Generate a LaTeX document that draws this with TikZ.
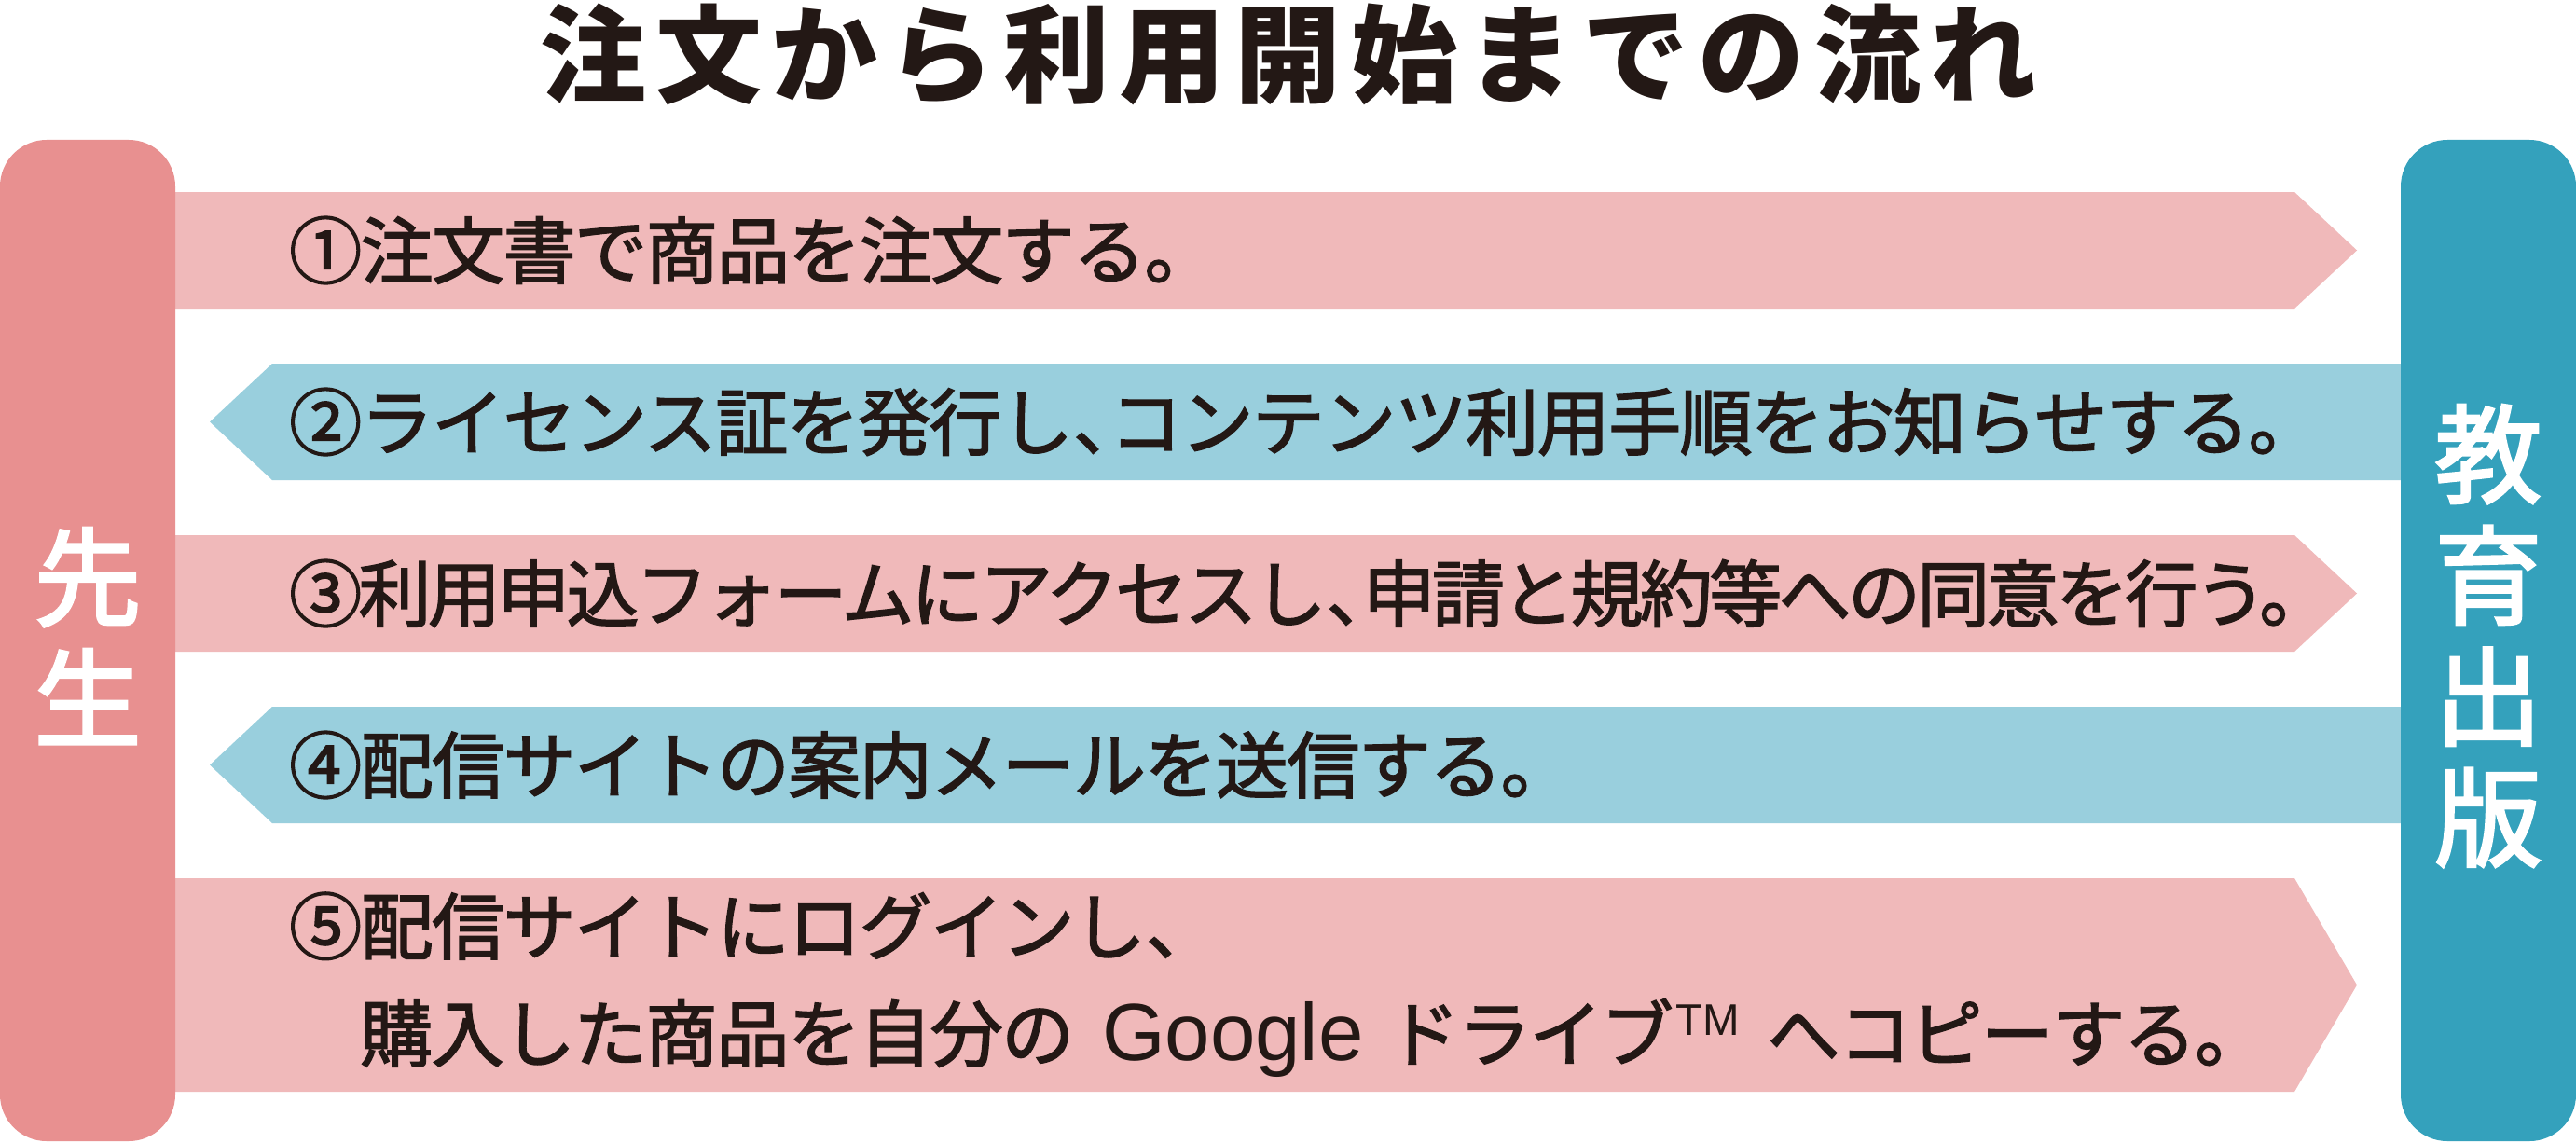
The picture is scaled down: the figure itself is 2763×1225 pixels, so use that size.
\documentclass[tikz,border=0pt]{standalone}
\usepackage{fontspec}
\newfontfamily\titlefont{Noto Sans CJK JP}[LetterSpace=9]
\newfontfamily\bodyfont{Noto Sans CJK JP}[LetterSpace=-2,FakeBold=2]
\newfontfamily\sidefont{Noto Sans CJK JP}[FakeBold=2.5]
\newfontfamily\latinfont{Liberation Sans}
\definecolor{senseiC}{RGB}{232,144,144}
\definecolor{pinkA}{RGB}{240,185,186}
\definecolor{blueA}{RGB}{153,207,221}
\definecolor{kyoikuC}{RGB}{52,161,188}
\definecolor{ink}{RGB}{35,24,21}
\newcommand\tenh{\makebox[0.5em][l]{、}}
\begin{document}
\begin{tikzpicture}[x=1bp,y=-1bp,
  colbox/.style={rectangle, rounded corners=50bp, minimum width=188bp, minimum height=1074bp, inner sep=0pt},
  pinkarrow/.style={fill=pinkA},
  bluearrow/.style={fill=blueA},
  steptext/.style={anchor=west, inner sep=0pt, text=ink, align=left,
    font=\bodyfont\fontsize{78bp}{115bp}\selectfont},
  sidetext/.style={inner sep=0pt, text=white, align=center,
    font=\sidefont\fontsize{115bp}{130bp}\selectfont},
  titletext/.style={inner sep=0pt, text=ink,
    font=\titlefont\bfseries\fontsize{114bp}{120bp}\selectfont}
]
\useasboundingbox (0,0) rectangle (2763,1225);
\fill[white] (0,0) rectangle (2763,1225);

% arrows
\fill[pinkarrow] (187,206) -- (2461,206) -- (2528,268.5) -- (2461,331) -- (187,331) -- cycle;
\fill[bluearrow] (2576,390) -- (292,390) -- (225,452.5) -- (292,515) -- (2576,515) -- cycle;
\fill[pinkarrow] (187,574) -- (2461,574) -- (2528,636.5) -- (2461,699) -- (187,699) -- cycle;
\fill[bluearrow] (2576,758) -- (292,758) -- (225,820.5) -- (292,883) -- (2576,883) -- cycle;
\fill[pinkarrow] (187,942) -- (2461,942) -- (2528,1056.5) -- (2461,1171) -- (187,1171) -- cycle;

% columns
\node[colbox, fill=senseiC] (sensei) at (94,687) {};
\node[colbox, fill=kyoikuC] (kyoiku) at (2669,687) {};
\node[sidetext] (senseiT) at (94,682) {先\\生};
\node[sidetext] (kyoikuT) at (2669,682) {教\\育\\出\\版};

% title
\node[titletext] (title) at (1382,58) {注文から利用開始までの流れ};

% steps
\node[steptext] (s1) at (310,268.5) {①注文書で商品を注文する。};
\node[steptext] (s2) at (310,452.5) {②ライセンス証を発行し\tenh コンテンツ利用手順をお知らせする。};
\node[steptext] (s3) at (310,636.5) {\addfontfeature{LetterSpace=-4.7}③利用申込フォームにアクセスし\tenh 申請と規約等への同意を行う。};
\node[steptext] (s4) at (310,820.5) {④配信サイトの案内メールを送信する。};
\node[steptext] (s5) at (310,1056.5) {⑤配信サイトにログインし\tenh\\\hspace*{76bp}購入した商品を自分の\hspace{30bp}{\latinfont\fontsize{87bp}{115bp}\selectfont Google}\hspace{25bp}ドライブ\hspace{2bp}\raisebox{27bp}{\latinfont\fontsize{47.5bp}{50bp}\selectfont TM}\hspace{30bp}へコピーする。};
\end{tikzpicture}
\end{document}
